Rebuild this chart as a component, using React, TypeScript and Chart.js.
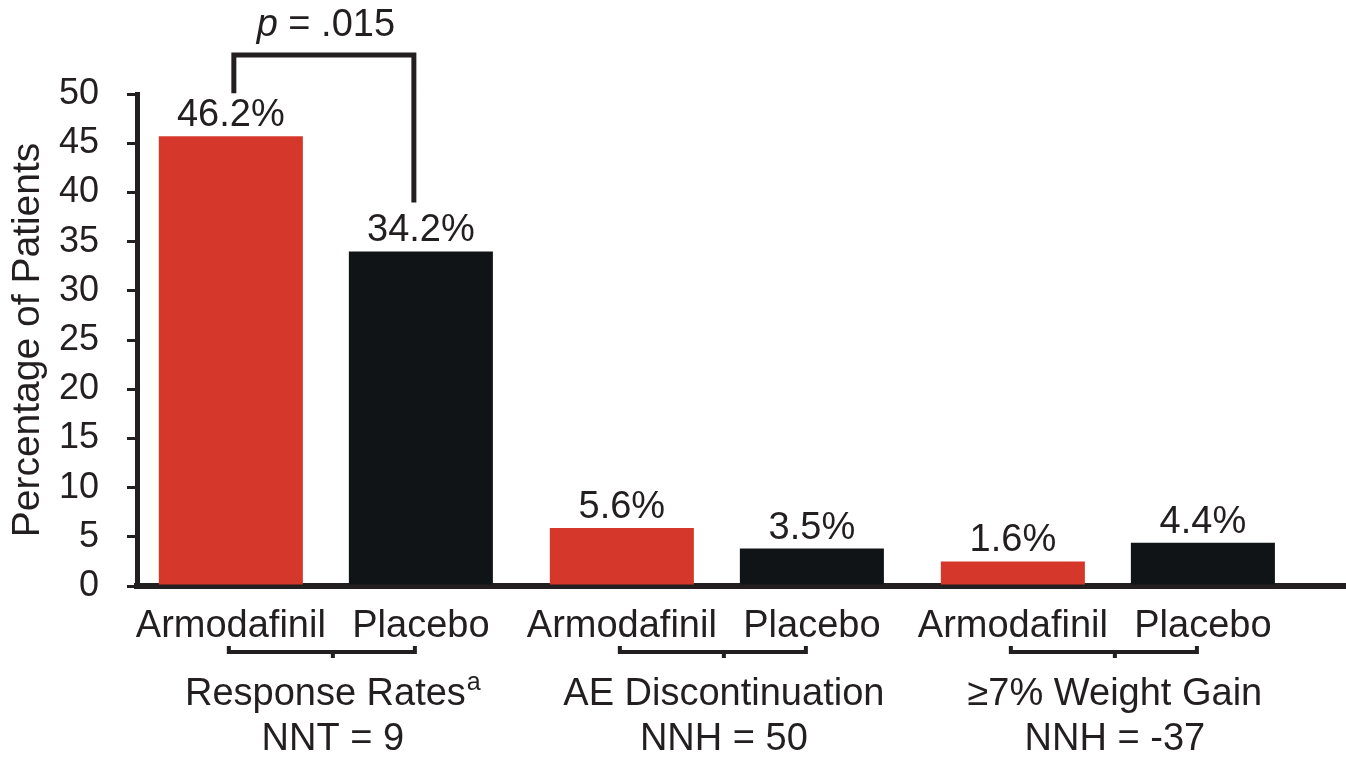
import React, { useEffect, useRef } from "react";
import { Chart, registerables } from "chart.js";

Chart.register(...registerables);

// ---- data ----
const groupPositions = [0, 1, 2];
const groupTitles = ["Response Rates", "AE Discontinuation", "≥7% Weight Gain"];
const groupSuperscripts = ["a", "", ""];
const groupStats = ["NNT = 9", "NNH = 50", "NNH = -37"];
const seriesNames = ["Armodafinil", "Placebo"];
const armodafinilValues = [45.7, 5.9, 2.5];
const placeboValues = [34.0, 3.8, 4.4];
const armodafinilLabels = ["46.2%", "5.6%", "1.6%"];
const placeboLabels = ["34.2%", "3.5%", "4.4%"];
const pValueLabel = ".015";
const yAxisTitle = "Percentage of Patients";

// ---- styles ----
const FONT = "'Liberation Sans', Arial, Helvetica, sans-serif";
const TEXT = "#231f20";
const AXIS = "#231f20";
const RED = "#d6372b";
const BLACK = "#111416";
const FS = 38;

const annotatePlugin = {
  id: "annotate",
  afterDatasetsDraw(chart: any) {
    const ctx = chart.ctx as CanvasRenderingContext2D;
    const area = chart.chartArea;
    const xs = chart.scales.x;
    const m0 = chart.getDatasetMeta(0);
    const m1 = chart.getDatasetMeta(1);
    const valueLabels = [armodafinilLabels, placeboLabels];
    ctx.save();
    ctx.fillStyle = TEXT;
    ctx.strokeStyle = TEXT;
    ctx.textAlign = "center";
    ctx.textBaseline = "alphabetic";
    ctx.font = `${FS}px ${FONT}`;

    [m0, m1].forEach((meta: any, d: number) => {
      meta.data.forEach((bar: any, i: number) => {
        ctx.fillText(valueLabels[d][i], bar.x, bar.y - 10);
        ctx.fillText(seriesNames[d], bar.x, area.bottom + 51);
      });
    });

    // group brackets and titles
    ctx.lineWidth = 4;
    ctx.lineCap = "butt";
    ctx.lineJoin = "miter";
    groupPositions.forEach((g, i) => {
      const x1 = m0.data[i].x - 2;
      const x2 = m1.data[i].x - 6;
      const cx = xs.getPixelForValue(g) + 7;
      const B = area.bottom + 66;
      ctx.beginPath();
      ctx.moveTo(x1, B - 6);
      ctx.lineTo(x1, B);
      ctx.lineTo(x2, B);
      ctx.lineTo(x2, B - 6);
      ctx.moveTo(cx, B);
      ctx.lineTo(cx, B + 6);
      ctx.stroke();

      ctx.font = `${FS}px ${FONT}`;
      const main = groupTitles[i];
      const sup = groupSuperscripts[i];
      const w1 = ctx.measureText(main).width;
      ctx.font = `25px ${FONT}`;
      const w2 = sup ? ctx.measureText(sup).width + 1 : 0;
      const start = cx - (w1 + w2) / 2;
      ctx.textAlign = "left";
      ctx.font = `${FS}px ${FONT}`;
      ctx.fillText(main, start, area.bottom + 119);
      if (sup) {
        ctx.font = `25px ${FONT}`;
        ctx.fillText(sup, start + w1 + 1, area.bottom + 104);
      }
      ctx.textAlign = "center";
      ctx.font = `${FS}px ${FONT}`;
      ctx.fillText(groupStats[i], cx, area.bottom + 164);
    });

    // significance bracket
    const b0 = m0.data[0];
    const b1 = m1.data[0];
    const px1 = b0.x + 3;
    const px2 = b1.x - 7;
    const top = area.top - 39;
    ctx.lineWidth = 5;
    ctx.beginPath();
    ctx.moveTo(px1, b0.y - 43);
    ctx.lineTo(px1, top);
    ctx.lineTo(px2, top);
    ctx.lineTo(px2, b1.y - 49);
    ctx.stroke();

    const pcx = (b0.x + b1.x) / 2;
    ctx.font = `italic ${FS}px ${FONT}`;
    const wp = ctx.measureText("p").width;
    ctx.font = `${FS}px ${FONT}`;
    const rest = " = " + pValueLabel;
    const wr = ctx.measureText(rest).width;
    const ps = pcx - (wp + wr) / 2;
    ctx.textAlign = "left";
    ctx.font = `italic ${FS}px ${FONT}`;
    ctx.fillText("p", ps, area.top - 58);
    ctx.font = `${FS}px ${FONT}`;
    ctx.fillText(rest, ps + wp, area.top - 58);
    ctx.restore();
  },
};

export default function App() {
  const canvasRef = useRef<HTMLCanvasElement | null>(null);

  useEffect(() => {
    const canvas = canvasRef.current;
    if (!canvas) return;
    const chart = new Chart(canvas, {
      type: "bar",
      data: {
        datasets: [
          {
            label: seriesNames[0],
            data: groupPositions.map((g, i) => ({ x: g, y: armodafinilValues[i] })),
            backgroundColor: RED,
            borderWidth: 0,
            barPercentage: 0.758,
            categoryPercentage: 0.972,
          },
          {
            label: seriesNames[1],
            data: groupPositions.map((g, i) => ({ x: g, y: placeboValues[i] })),
            backgroundColor: BLACK,
            borderWidth: 0,
            barPercentage: 0.758,
            categoryPercentage: 0.972,
          },
        ],
      } as any,
      options: {
        responsive: false,
        animation: false,
        devicePixelRatio: 1,
        layout: { padding: { top: 94, left: 0, right: 0, bottom: 0 } },
        plugins: { legend: { display: false }, tooltip: { enabled: false } },
        scales: {
          x: {
            type: "linear",
            min: -0.483,
            max: 2.609,
            offset: false,
            afterBuildTicks: (s: any) => {
              s.ticks = groupPositions.map((v) => ({ value: v }));
            },
            ticks: { display: false },
            grid: { display: false, drawTicks: false },
            border: { display: true, color: AXIS, width: 6 },
            afterFit: (s: any) => {
              s.height = 173;
            },
          },
          y: {
            min: 0,
            max: 50,
            ticks: {
              stepSize: 5,
              color: TEXT,
              padding: 28,
              font: { family: FONT, size: 36 },
            },
            grid: {
              drawOnChartArea: false,
              drawTicks: true,
              tickLength: 10,
              color: AXIS,
              lineWidth: 3,
            },
            border: { display: true, color: AXIS, width: 5 },
            title: {
              display: true,
              text: yAxisTitle,
              color: TEXT,
              font: { family: FONT, size: 39, lineHeight: 1 },
              padding: { top: 9, bottom: 0 },
            },
            afterFit: (s: any) => {
              s.width = 137;
            },
          },
        },
      } as any,
      plugins: [annotatePlugin],
    });
    return () => chart.destroy();
  }, []);

  return (
    <div style={{ position: "fixed", left: 0, top: 0, width: 1346, height: 759, background: "#fff" }}>
      <canvas ref={canvasRef} width={1346} height={759} style={{ display: "block" }} />
    </div>
  );
}
